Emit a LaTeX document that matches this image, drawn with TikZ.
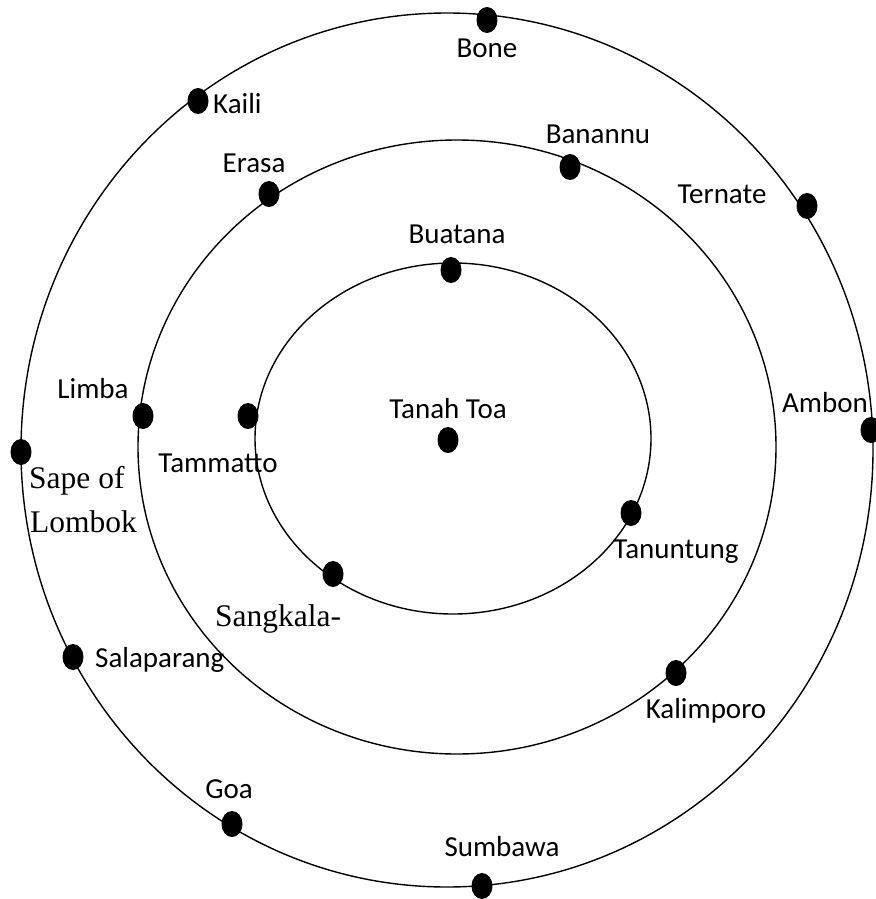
\documentclass[tikz,border=0pt]{standalone}
\usepackage{fontspec}
\setmainfont{Liberation Serif}
\newfontfamily\lblfont{Carlito}
\usetikzlibrary{shapes.geometric}
\tikzset{
  orbit/.style={draw=black, line width=1.4pt},
  dot/.style={ellipse, fill=black, draw=none, minimum width=21pt, minimum height=26pt, inner sep=0pt},
  lbl/.style={anchor=base, inner sep=0pt, font=\lblfont\fontsize{29}{34}\selectfont},
  lblw/.style={lbl, anchor=base west},
  serif/.style={anchor=base west, inner sep=0pt, font=\fontsize{31.5}{44}\selectfont}
}
\begin{document}
\begin{tikzpicture}[x=1pt, y=-1pt]
\useasboundingbox (0,0) rectangle (875,899);
% orbits
\draw[orbit] (447,450) ellipse [x radius=426, y radius=437];
\draw[orbit] (457,447) ellipse [x radius=319, y radius=307];
\draw[orbit] (453,438.5) ellipse [x radius=198, y radius=175.5];
% dots
\node[dot] (dBone) at (487,20) {};
\node[dot] (dKaili) at (198,101) {};
\node[dot] (dErasa) at (269,194) {};
\node[dot] (dBanannu) at (570,167) {};
\node[dot] (dTernate) at (807,206) {};
\node[dot] (dBuatana) at (451,270) {};
\node[dot] (dAmbon) at (871,430) {};
\node[dot] (dTanah) at (448,440) {};
\node[dot] (dLimba) at (143,416) {};
\node[dot] (dTammatto) at (248,416) {};
\node[dot] (dSape) at (21,452) {};
\node[dot] (dTanuntung) at (631,513) {};
\node[dot] (dSangkala) at (333,574) {};
\node[dot] (dSalaparang) at (73,657) {};
\node[dot] (dKalimporo) at (676,673) {};
\node[dot] (dGoa) at (232,824) {};
\node[dot] (dSumbawa) at (482,886) {};
% labels
\node[lbl] (tBone) at (487,58) {Bone};
\node[lblw] (tKaili) at (213,113) {Kaili};
\node[lbl] (tErasa) at (254,172) {Erasa};
\node[lbl] (tBanannu) at (598,143) {Banannu};
\node[lbl] (tTernate) at (722,203) {Ternate};
\node[lbl] (tBuatana) at (457,243) {Buatana};
\node[lbl] (tTanah) at (448,418) {Tanah Toa};
\node[lbl] (tAmbon) at (825,412) {Ambon};
\node[lbl] (tLimba) at (93,398) {Limba};
\node[lbl] (tTammatto) at (218,472) {Tammatto};
\node[lbl] (tTanuntung) at (676,558) {Tanuntung};
\node[lblw] (tSalaparang) at (95,667) {Salaparang};
\node[lbl] (tKalimporo) at (706,718) {Kalimporo};
\node[lbl] (tGoa) at (229,798) {Goa};
\node[lbl] (tSumbawa) at (502,856) {Sumbawa};
\node[serif] (tSape) at (29,488) {Sape of};
\node[serif] (tLombok) at (30,532) {Lombok};
\node[serif] (tSangkala) at (215,626) {Sangkala-};
\end{tikzpicture}
\end{document}
